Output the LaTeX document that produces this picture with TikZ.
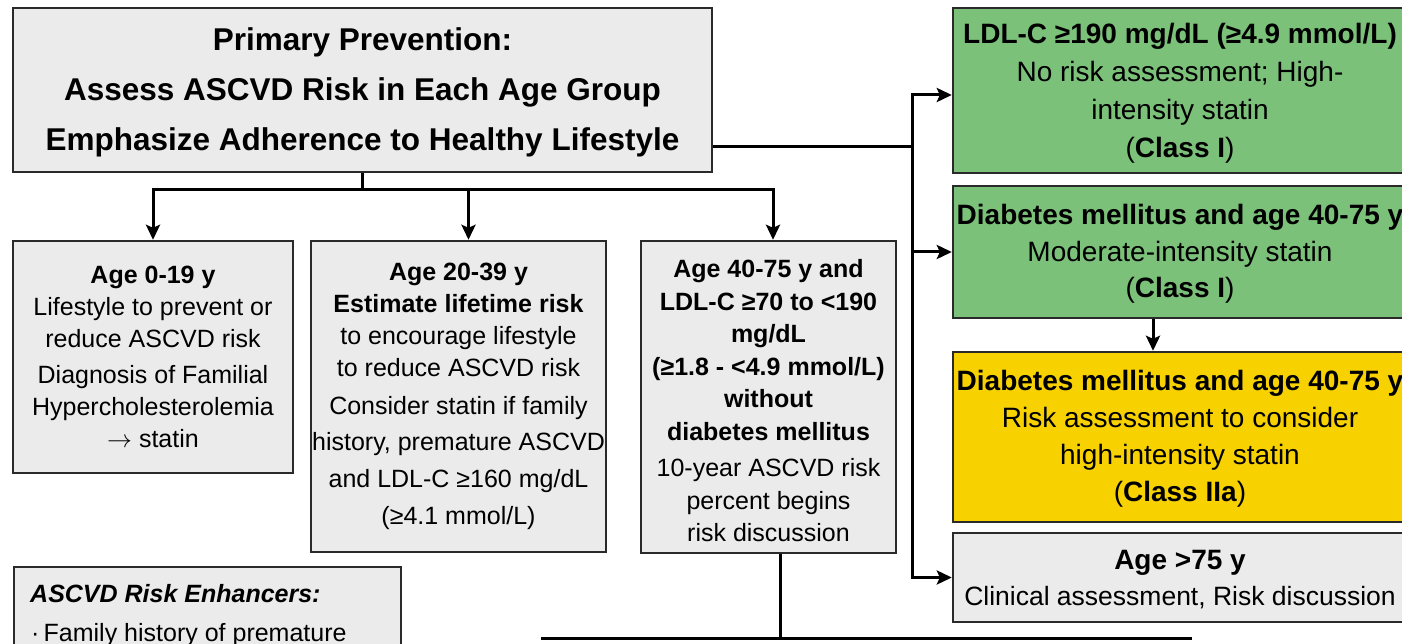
\documentclass[tikz,border=0pt]{standalone}
\usepackage{fontspec}
\setmainfont{Liberation Sans}
\usetikzlibrary{arrows.meta}
\definecolor{boxgrey}{HTML}{EBEBEB}
\definecolor{boxgreen}{HTML}{7CC17A}
\definecolor{boxyellow}{HTML}{F7D200}
\definecolor{edgecol}{HTML}{2A2A2A}
\begin{document}
\begin{tikzpicture}[x=1pt,y=-1pt,
  box/.style={draw=edgecol, line width=2.4pt, inner sep=0pt, align=center, anchor=center},
  conn/.style={line width=3pt, draw=black},
  arr/.style={conn, -{Stealth[length=15pt,width=14pt,inset=3pt]}},
]
\useasboundingbox (0,0) rectangle (1402,644);
\clip (0,0) rectangle (1402,644);
\fill[white] (0,0) rectangle (1402,644);

% top box
\node[box, fill=boxgrey, minimum width=699pt, minimum height=164pt] (top) at (362.5,90) {};
\node[align=center, inner sep=0pt, font=\fontsize{31.5}{50}\selectfont\bfseries] (toptext) at (362.5,92.5)
  {Primary Prevention:\\ Assess ASCVD Risk in Each Age Group\\ Emphasize Adherence to Healthy Lifestyle};

% age boxes
\node[box, fill=boxgrey, minimum width=280pt, minimum height=232pt,
      font=\fontsize{25}{32}\selectfont] (a019) at (153,357)
  {\textbf{Age 0-19 y}\\ Lifestyle to prevent or\\ reduce ASCVD risk\\[4pt] Diagnosis of Familial\\ Hypercholesterolemia\\ $\rightarrow$ statin};

\node[box, fill=boxgrey, minimum width=295pt, minimum height=311pt,
      font=\fontsize{25}{32}\selectfont] (a2039) at (458.5,396.5)
  {\textbf{Age 20-39 y}\\ \textbf{Estimate lifetime risk}\\ to encourage lifestyle\\ to reduce ASCVD risk\\[6pt] Consider statin if family\\[4pt] history, premature ASCVD\\[5pt] and LDL-C ≥160 mg/dL\\[5pt] (≥4.1 mmol/L)};

\node[box, fill=boxgrey, minimum width=255pt, minimum height=312pt] (a4075) at (768.5,397) {};
\node[align=center, inner sep=0pt, font=\fontsize{25}{32.5}\selectfont] (a4075text) at (768.5,401)
  {\textbf{Age 40-75 y and}\\ \textbf{LDL-C ≥70 to <190}\\ \textbf{mg/dL}\\ \textbf{(≥1.8 - <4.9 mmol/L)}\\ \textbf{without}\\ \textbf{diabetes mellitus}\\[4pt] 10-year ASCVD risk\\ percent begins\\ risk discussion};

% right boxes
\node[box, fill=boxgreen, minimum width=454pt, minimum height=165pt] (g1) at (1180,90.5) {};
\node[align=center, inner sep=0pt, font=\fontsize{28}{38}\selectfont] (g1text) at (1180,93)
  {\textbf{LDL-C ≥190 mg/dL (≥4.9 mmol/L)}\\ No risk assessment; High-\\ intensity statin\\ (\textbf{Class I})};

\node[box, fill=boxgreen, minimum width=454pt, minimum height=132pt] (g2) at (1180,252) {};
\node[align=center, inner sep=0pt, font=\fontsize{28}{36.5}\selectfont] (g2text) at (1180,254)
  {\textbf{Diabetes mellitus and age 40-75 y}\\ Moderate-intensity statin\\ (\textbf{Class I})};

\node[box, fill=boxyellow, minimum width=454pt, minimum height=170pt] (yel) at (1180,437) {};
\node[align=center, inner sep=0pt, font=\fontsize{28}{37}\selectfont] (yeltext) at (1180,439)
  {\textbf{Diabetes mellitus and age 40-75 y}\\ Risk assessment to consider\\ high-intensity statin\\ (\textbf{Class IIa})};

\node[box, fill=boxgrey, minimum width=454pt, minimum height=89pt] (old) at (1180,577.5) {};
\node[align=center, inner sep=0pt, font=\fontsize{26.5}{36}\selectfont] (oldtext) at (1180,580)
  {{\fontsize{28}{36}\selectfont\textbf{Age >75 y}}\\ Clinical assessment, Risk discussion};

% enhancers box
\node[box, fill=boxgrey, minimum width=387pt, minimum height=110pt, anchor=north west] (enh) at (13,566) {};
\node[anchor=base west, inner sep=0pt, font=\fontsize{25}{30}\selectfont\bfseries\itshape] (enht) at (30,602) {ASCVD Risk Enhancers:};
\node[anchor=base west, inner sep=0pt, font=\fontsize{25}{30}\selectfont] (enhb) at (31,641) {·\,Family history of premature};

% connectors from top box down
\coordinate (split) at (363,190);
\draw[conn] (top.south) -- (top.south |- split);
\draw[arr] (split) -| (a019.north);
\draw[arr] (split) -| ([xshift=10pt]a2039.north);
\draw[arr] (split) -| ([xshift=4.5pt]a4075.north);

% connectors to the right
\coordinate (rsplit) at (912,147);
\draw[conn] (top.east |- rsplit) -- (rsplit);
\draw[arr] (rsplit) |- ([yshift=-4.5pt]g1.west);
\draw[arr] (rsplit) |- (g2.west);
\draw[arr] (rsplit) |- (old.west);

\draw[arr] ([xshift=-27pt]g2.south) -- ([xshift=-27pt]yel.north);

% bottom connector
\coordinate (bsplit) at (780,638);
\coordinate (bl) at (541,638);
\coordinate (br) at (1192,638);
\draw[conn] ([xshift=11.5pt]a4075.south) -- (bsplit);
\draw[conn] (bl) -- (br);
\end{tikzpicture}
\end{document}
